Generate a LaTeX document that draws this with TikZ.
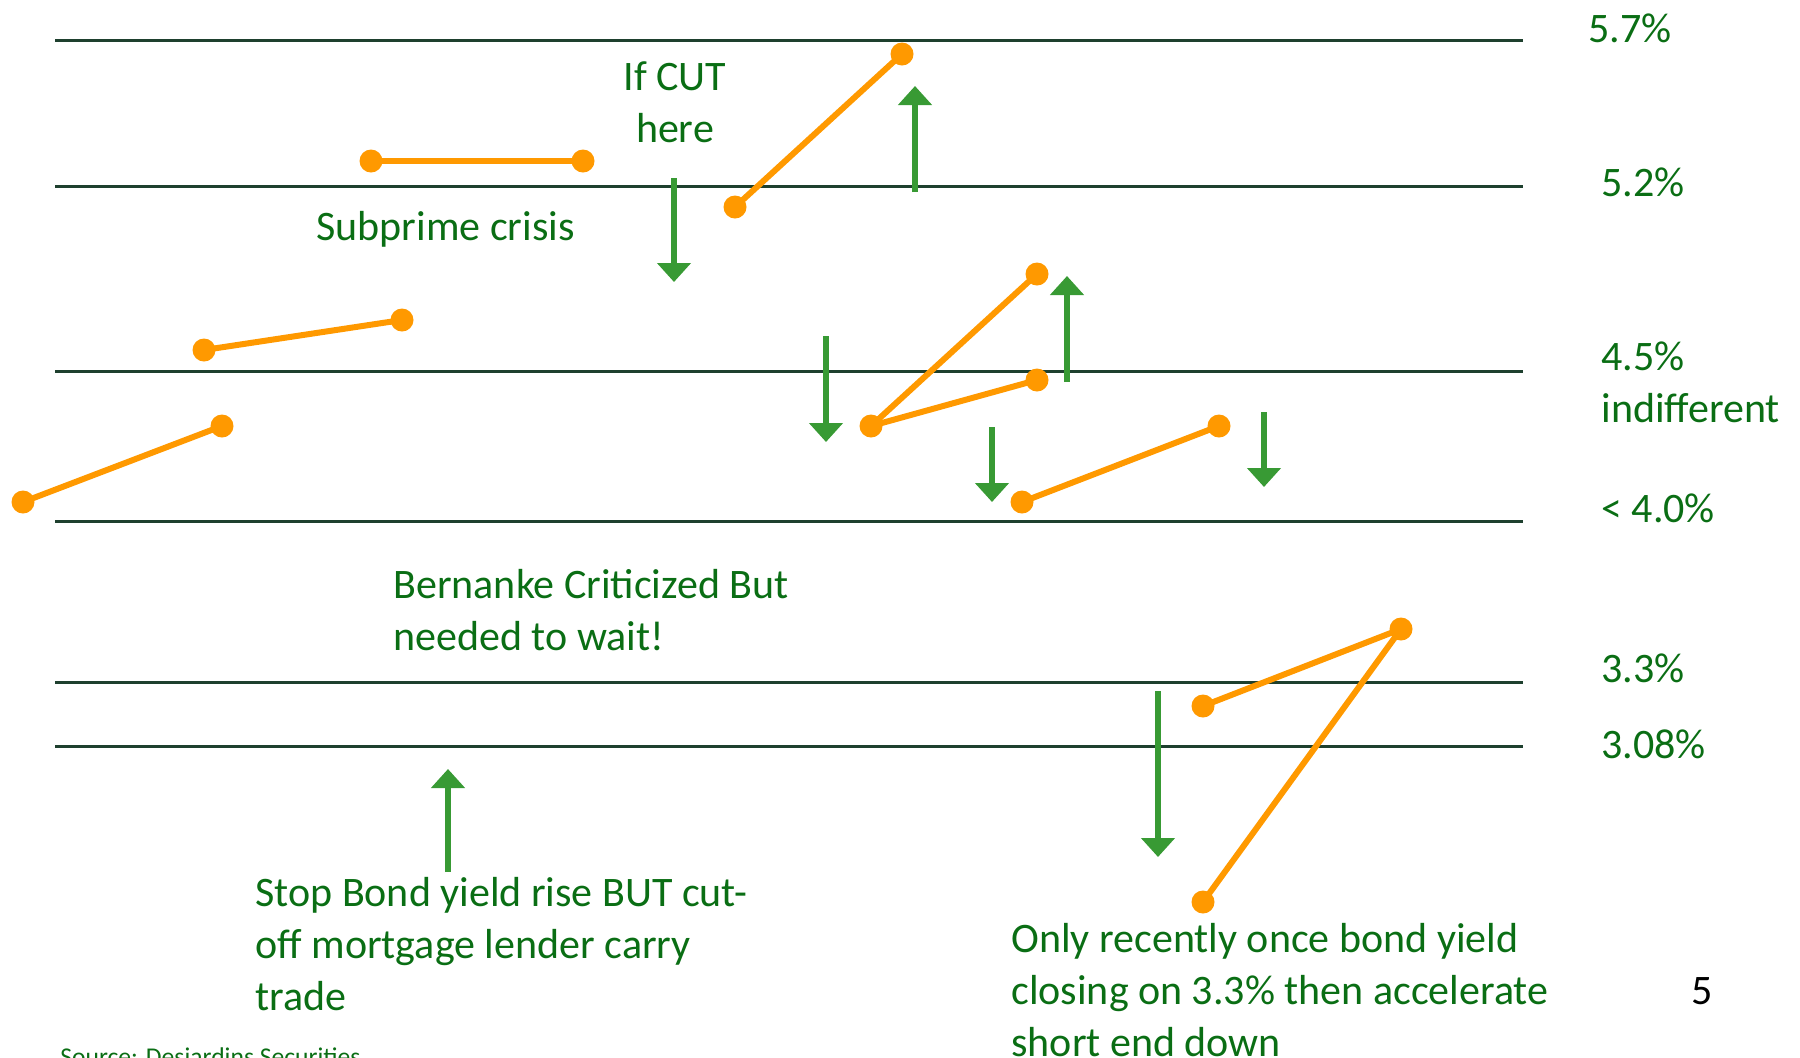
\documentclass[tikz,border=0pt]{standalone}
\usepackage{fontspec}
\setmainfont{Carlito}
\usepackage{tikz}
\usetikzlibrary{arrows.meta}
\definecolor{levelgreen}{RGB}{30,64,46}
\definecolor{yieldorange}{RGB}{255,153,0}
\definecolor{arrowgreen}{RGB}{56,154,52}
\definecolor{textgreen}{RGB}{10,110,20}

\begin{document}
\begin{tikzpicture}[x=0.5pt, y=-0.5pt,
    level/.style={line width=1.5pt, levelgreen},
    seg/.style={line width=3pt, yieldorange},
    dot/.style={circle, fill=yieldorange, inner sep=0pt, minimum size=11.5pt},
    move/.style={line width=3.3pt, arrowgreen, -{Triangle[width=16.5pt, length=9.5pt]}},
    txt/.style={text=textgreen, font=\fontsize{21}{25.8}\selectfont, align=left,
                anchor=base west, inner sep=0pt}]
  \useasboundingbox (0,0) rectangle (1800,1057);

  % Rate levels
  \foreach \y in {40,186,371,521,682,746}
    \draw[level] (55,\y) -- (1523,\y);

  % Level labels (multi-line nodes sit on their last line)
  \node[txt] (r57) at (1588,42) {5.7\%};
  \node[txt] (r52) at (1601,196) {5.2\%};
  \node[txt] (r45) at (1601,422) {4.5\%\\indifferent};
  \node[txt] (r40) at (1601,522) {< 4.0\%};
  \node[txt] (r33) at (1601,682) {3.3\%};
  \node[txt] (r308) at (1601,758) {3.08\%};

  % Yield moves
  \node[dot] (a1) at (23,502) {};
  \node[dot] (a2) at (222,426) {};
  \node[dot] (b1) at (204,350) {};
  \node[dot] (b2) at (402,320) {};
  \node[dot] (c1) at (371,161) {};
  \node[dot] (c2) at (583,161) {};
  \node[dot] (d1) at (735,207) {};
  \node[dot] (d2) at (902,54) {};
  \node[dot] (e0) at (871,426) {};
  \node[dot] (e1) at (1037,274) {};
  \node[dot] (e2) at (1037,380) {};
  \node[dot] (f1) at (1022,502) {};
  \node[dot] (f2) at (1219,426) {};
  \node[dot] (g0) at (1401,629) {};
  \node[dot] (g1) at (1203,706) {};
  \node[dot] (g2) at (1203,902) {};
  \draw[seg] (a1.center) -- (a2.center);
  \draw[seg] (b1.center) -- (b2.center);
  \draw[seg] (c1.center) -- (c2.center);
  \draw[seg] (d1.center) -- (d2.center);
  \draw[seg] (e0.center) -- (e1.center);
  \draw[seg] (e0.center) -- (e2.center);
  \draw[seg] (f1.center) -- (f2.center);
  \draw[seg] (g1.center) -- (g0.center) -- (g2.center);

  % Policy arrows
  \coordinate (cutT) at (674,178);  \coordinate (cutB) at (674,282);
  \coordinate (upAB) at (915,192);  \coordinate (upAT) at (915,86);
  \coordinate (dnBT) at (826,336);  \coordinate (dnBB) at (826,442);
  \coordinate (upCB) at (1067,382); \coordinate (upCT) at (1067,276);
  \coordinate (dnDT) at (992,427);  \coordinate (dnDB) at (992,502);
  \coordinate (dnET) at (1264,412); \coordinate (dnEB) at (1264,487);
  \coordinate (dnFT) at (1158,691); \coordinate (dnFB) at (1158,857);
  \coordinate (upGB) at (448,872);  \coordinate (upGT) at (448,769);
  \draw[move] (cutT) -- (cutB);
  \draw[move] (upAB) -- (upAT);
  \draw[move] (dnBT) -- (dnBB);
  \draw[move] (upCB) -- (upCT);
  \draw[move] (dnDT) -- (dnDB);
  \draw[move] (dnET) -- (dnEB);
  \draw[move] (dnFT) -- (dnFB);
  \draw[move] (upGB) -- (upGT);

  % Notes
  \node[txt, align=center, anchor=base] (cut) at (675,142) {If CUT\\here};
  \node[txt] (subprime) at (316,240) {Subprime crisis};
  \node[txt] (bernanke) at (393,650) {Bernanke Criticized But\\needed to wait!};
  \node[txt] (stop) at (255,1010) {Stop Bond yield rise BUT cut-\\off mortgage lender carry\\trade};
  \node[txt] (recent) at (1011,1056) {Only recently once bond yield\\closing on 3.3\% then accelerate\\short end down};
  \node[txt, text=black] (page) at (1691,1004) {5};
  \node[txt, font=\fontsize{12.8}{15}\selectfont] (source) at (60,1065) {Source: Desjardins Securities};
\end{tikzpicture}
\end{document}
